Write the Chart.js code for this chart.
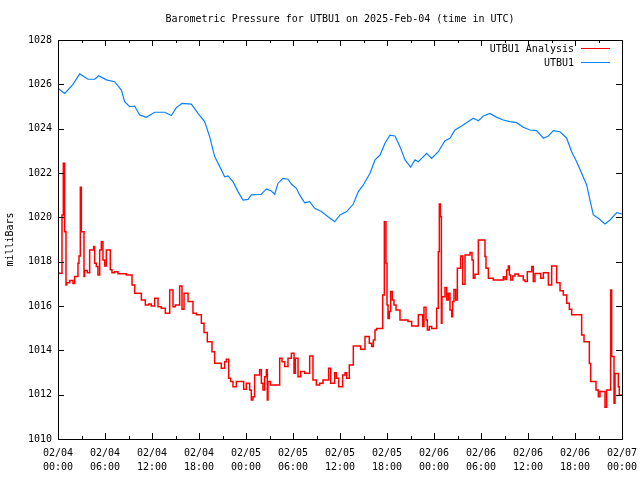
<!DOCTYPE html>
<html>
<head>
<meta charset="utf-8">
<script src="https://cdn.jsdelivr.net/npm/chart.js@4.4.1/dist/chart.umd.min.js"></script>
<style>
  html, body { margin: 0; padding: 0; background: #fff; }
  canvas { display: block; }
</style>
</head>
<body>
<canvas id="myChart" width="640" height="480"></canvas>
<script>
// hours since 02/04 00:00 UTC
const analysisHours = [0,0.51,0.68,0.85,1.02,1.11,1.49,1.91,2.13,2.55,2.68,2.85,2.98,3.32,3.4,3.74,4.04,4.55,4.68,4.89,5.1,5.32,5.53,5.74,5.96,6.17,6.68,6.89,7.23,7.66,8.72,9.45,9.79,10.64,11.15,11.57,11.91,12.34,12.77,13.19,13.7,14.26,14.68,14.98,15.53,15.83,16.09,16.6,17.23,17.66,18.3,18.64,19.06,19.66,20.0,20.85,21.28,21.49,21.79,22.04,22.34,22.77,23.7,24.04,24.47,24.68,24.89,25.1,25.74,25.96,26.17,26.38,26.6,26.72,26.81,27.11,28.3,28.6,28.94,29.36,29.79,30.13,30.3,30.64,30.98,31.49,32.13,32.55,32.98,33.4,33.83,34.55,34.81,35.32,35.53,35.83,36.34,36.64,36.85,37.19,37.7,38.64,39.19,39.74,40.04,40.26,40.47,40.68,41.45,41.66,41.87,42.0,42.13,42.3,42.47,42.68,42.89,43.15,43.66,44.68,45.15,46.0,46.55,46.72,46.98,47.15,47.4,47.7,48.34,48.55,48.68,48.81,48.94,49.02,49.4,49.62,49.83,50.04,50.26,50.38,50.55,50.77,50.98,51.4,51.66,51.96,52.6,52.85,53.02,53.23,53.66,54.51,54.64,54.94,55.57,56.85,57.06,57.28,57.49,57.62,57.79,58.04,58.34,58.77,59.4,59.62,59.91,60.47,60.68,60.89,61.62,61.96,62.6,63.02,63.66,64.09,64.51,64.94,65.28,65.57,66.85,67.15,67.83,68.0,68.68,68.98,69.19,69.83,70.04,70.55,70.68,70.98,71.11,71.53,71.66,71.83,72];
const analysisMb = [1016.72,1017.48,1020.11,1022.44,1019.35,1016.95,1017.05,1017.15,1017.02,1017.33,1017.93,1018.26,1021.36,1019.35,1017.33,1017.6,1017.5,1018.53,1018.68,1017.93,1017.78,1017.4,1018.53,1018.9,1018.08,1017.81,1018.53,1017.63,1017.5,1017.55,1017.45,1017.4,1016.95,1016.57,1016.27,1016.05,1016.09,1016.0,1016.35,1015.97,1015.9,1015.67,1016.72,1015.97,1016.05,1016.9,1015.85,1016.57,1016.2,1015.67,1015.6,1015.22,1014.8,1014.39,1013.94,1013.42,1013.19,1013.49,1013.6,1012.74,1012.59,1012.36,1012.59,1012.24,1012.51,1012.21,1011.76,1011.91,1012.89,1013.12,1012.51,1012.21,1012.81,1013.12,1011.76,1012.59,1012.44,1013.64,1013.49,1013.27,1013.64,1013.87,1012.97,1013.64,1012.81,1013.04,1012.97,1013.75,1012.66,1012.44,1012.51,1012.66,1013.19,1012.51,1012.99,1012.74,1012.36,1012.89,1012.99,1012.74,1013.34,1014.2,1014.05,1014.62,1014.32,1014.17,1014.47,1014.92,1014.99,1016.5,1019.8,1017.93,1016.05,1015.44,1015.75,1016.65,1016.27,1016.05,1015.82,1015.37,1015.3,1015.1,1015.6,1015.07,1015.94,1015.37,1014.92,1015.07,1014.99,1015.9,1018.45,1020.6,1020.03,1015.22,1016.42,1016.84,1016.27,1016.57,1015.82,1015.52,1016.2,1016.75,1016.27,1017.7,1018.26,1016.98,1018.3,1018.41,1018.08,1017.25,1017.43,1018.98,1018.23,1017.7,1017.25,1017.17,1017.32,1017.2,1017.62,1017.8,1017.4,1017.17,1017.35,1017.44,1017.35,1017.17,1017.1,1017.55,1017.78,1017.1,1017.47,1017.25,1017.5,1016.95,1017.81,1017.05,1016.69,1016.5,1016.12,1015.85,1015.6,1014.69,1014.39,1013.41,1012.59,1012.21,1011.91,1012.14,1011.43,1012.21,1016.72,1013.72,1011.61,1012.96,1012.36,1011.99,1011.99];

const stationHours = [0,0.85,1.91,2.77,3.83,4.68,5.19,6.17,7.23,8.09,8.51,9.15,9.79,10.43,11.28,12.34,13.62,14.47,15.11,15.83,17.02,17.87,18.72,19.36,20.0,20.64,21.28,21.7,22.34,22.98,23.62,24.26,24.68,25.96,26.6,27.23,27.66,28.09,28.72,29.36,29.79,30.43,30.85,31.49,32.13,32.77,33.62,34.47,35.32,36.0,36.85,37.7,38.34,38.98,39.83,40.47,41.11,41.74,42.38,43.02,43.66,44.3,45.02,45.57,46.0,46.43,47.06,47.7,48.55,49.4,50.04,50.68,51.53,52.38,53.02,53.66,54.3,55.15,56.0,56.85,57.7,58.55,59.4,60.26,61.11,61.96,62.6,63.23,64.09,64.94,65.57,66.21,66.85,67.49,67.91,68.34,68.98,69.83,70.47,71.32,72];
const stationMb = [1025.82,1025.59,1026.0,1026.47,1026.23,1026.23,1026.39,1026.2,1026.12,1025.74,1025.22,1024.99,1025.02,1024.62,1024.51,1024.74,1024.74,1024.59,1024.95,1025.14,1025.11,1024.69,1024.32,1023.64,1022.74,1022.29,1021.83,1021.87,1021.61,1021.16,1020.78,1020.81,1021.01,1021.04,1021.28,1021.19,1021.04,1021.54,1021.76,1021.72,1021.5,1021.31,1021.01,1020.66,1020.71,1020.41,1020.26,1020.03,1019.8,1020.11,1020.26,1020.6,1021.16,1021.46,1021.99,1022.59,1022.81,1023.34,1023.71,1023.67,1023.19,1022.59,1022.26,1022.59,1022.51,1022.66,1022.89,1022.66,1022.96,1023.46,1023.57,1023.94,1024.12,1024.32,1024.47,1024.36,1024.57,1024.69,1024.51,1024.39,1024.32,1024.27,1024.06,1023.94,1023.91,1023.57,1023.67,1023.91,1023.86,1023.57,1022.96,1022.51,1021.99,1021.46,1020.78,1020.11,1019.96,1019.7,1019.88,1020.21,1020.15];

const dayLabels = ["02/04", "02/05", "02/06", "02/07"];
const yTicks = [1010, 1012, 1014, 1016, 1018, 1020, 1022, 1024, 1026, 1028];
const titleText = "Barometric Pressure for UTBU1 on 2025-Feb-04 (time in UTC)";

const FONT = "'DejaVu Sans Mono', 'Liberation Mono', monospace";
Chart.defaults.font.family = FONT;
Chart.defaults.font.size = 10;
Chart.defaults.color = "#000";

function pairs(xs, ys) {
  return xs.map((h, i) => ({ x: h, y: ys[i] }));
}

// frame, inward ticks, title and legend like gnuplot draws them
const gnuplotBits = {
  id: "gnuplotBits",
  afterDraw(chart) {
    const { ctx, chartArea: a, scales } = chart;
    const x = scales.x, y = scales.y;
    ctx.save();
    ctx.strokeStyle = "#000";
    ctx.lineWidth = 1;
    ctx.beginPath();
    for (let h = 0; h <= 72; h += 3) {
      const px = Math.round(x.getPixelForValue(h)) + 0.5;
      const len = h % 6 === 0 ? 6 : 3;
      ctx.moveTo(px, a.bottom); ctx.lineTo(px, a.bottom - len);
      ctx.moveTo(px, a.top); ctx.lineTo(px, a.top + len);
    }
    yTicks.forEach(v => {
      const py = Math.round(y.getPixelForValue(v)) + 0.5;
      ctx.moveTo(a.left, py); ctx.lineTo(a.left + 6, py);
      ctx.moveTo(a.right, py); ctx.lineTo(a.right - 6, py);
    });
    ctx.stroke();
    ctx.strokeRect(Math.round(a.left) + 0.5, Math.round(a.top) + 0.5,
      Math.round(a.right - a.left), Math.round(a.bottom - a.top));

    ctx.fillStyle = "#000";
    ctx.font = "10px " + FONT;
    ctx.textAlign = "center";
    ctx.textBaseline = "middle";
    ctx.fillText(titleText, (a.left + a.right) / 2, 19);

    // legend
    ctx.textAlign = "right";
    chart.data.datasets.forEach((ds, i) => {
      const ly = 49 + i * 14;
      ctx.fillStyle = "#000";
      ctx.fillText(ds.label, 574, ly);
      ctx.strokeStyle = ds.borderColor;
      ctx.lineWidth = 1;
      ctx.beginPath();
      ctx.moveTo(581, ly - 0.5);
      ctx.lineTo(610, ly - 0.5);
      ctx.stroke();
    });
    ctx.restore();
  }
};

new Chart(document.getElementById("myChart"), {
  type: "line",
  data: {
    datasets: [
      {
        label: "UTBU1 Analysis",
        data: pairs(analysisHours, analysisMb),
        borderColor: "#ff0000",
        borderWidth: 1.5,
        stepped: "after",
        pointRadius: 0,
        fill: false
      },
      {
        label: "UTBU1",
        data: pairs(stationHours, stationMb),
        borderColor: "#0a80ff",
        borderWidth: 1.2,
        pointRadius: 0,
        tension: 0,
        fill: false
      }
    ]
  },
  options: {
    responsive: false,
    animation: false,
    events: [],
    layout: { padding: { top: 40, right: 18, left: 0, bottom: 0 } },
    plugins: {
      legend: { display: false },
      tooltip: { enabled: false },
      title: { display: false }
    },
    scales: {
      x: {
        type: "linear",
        min: 0,
        max: 72,
        grid: { display: false, drawTicks: false },
        border: { display: false },
        afterFit: s => {
          s.height = 41;
          s.paddingLeft = 0;
          s.paddingRight = 0;
        },
        afterBuildTicks: s => {
          const t = [];
          for (let h = 0; h <= 72; h += 6) t.push({ value: h });
          s.ticks = t;
        },
        ticks: {
          padding: 7,
          maxRotation: 0,
          autoSkip: false,
          font: { size: 10, lineHeight: 1.4 },
          callback: v => {
            const hh = String(v % 24).padStart(2, "0");
            return [dayLabels[Math.floor(v / 24)], hh + ":00"];
          }
        }
      },
      y: {
        min: 1010,
        max: 1028,
        grid: { display: false, drawTicks: false },
        border: { display: false },
        afterFit: s => {
          s.width = 58;
          s.paddingTop = 0;
          s.paddingBottom = 0;
        },
        afterBuildTicks: s => { s.ticks = yTicks.map(v => ({ value: v })); },
        ticks: {
          padding: 6,
          font: { size: 10 },
          callback: v => String(v)
        },
        title: {
          display: true,
          text: "milliBars",
          font: { size: 10 },
          padding: { top: 4, bottom: 0 }
        }
      }
    }
  },
  plugins: [gnuplotBits]
});
</script>
</body>
</html>
